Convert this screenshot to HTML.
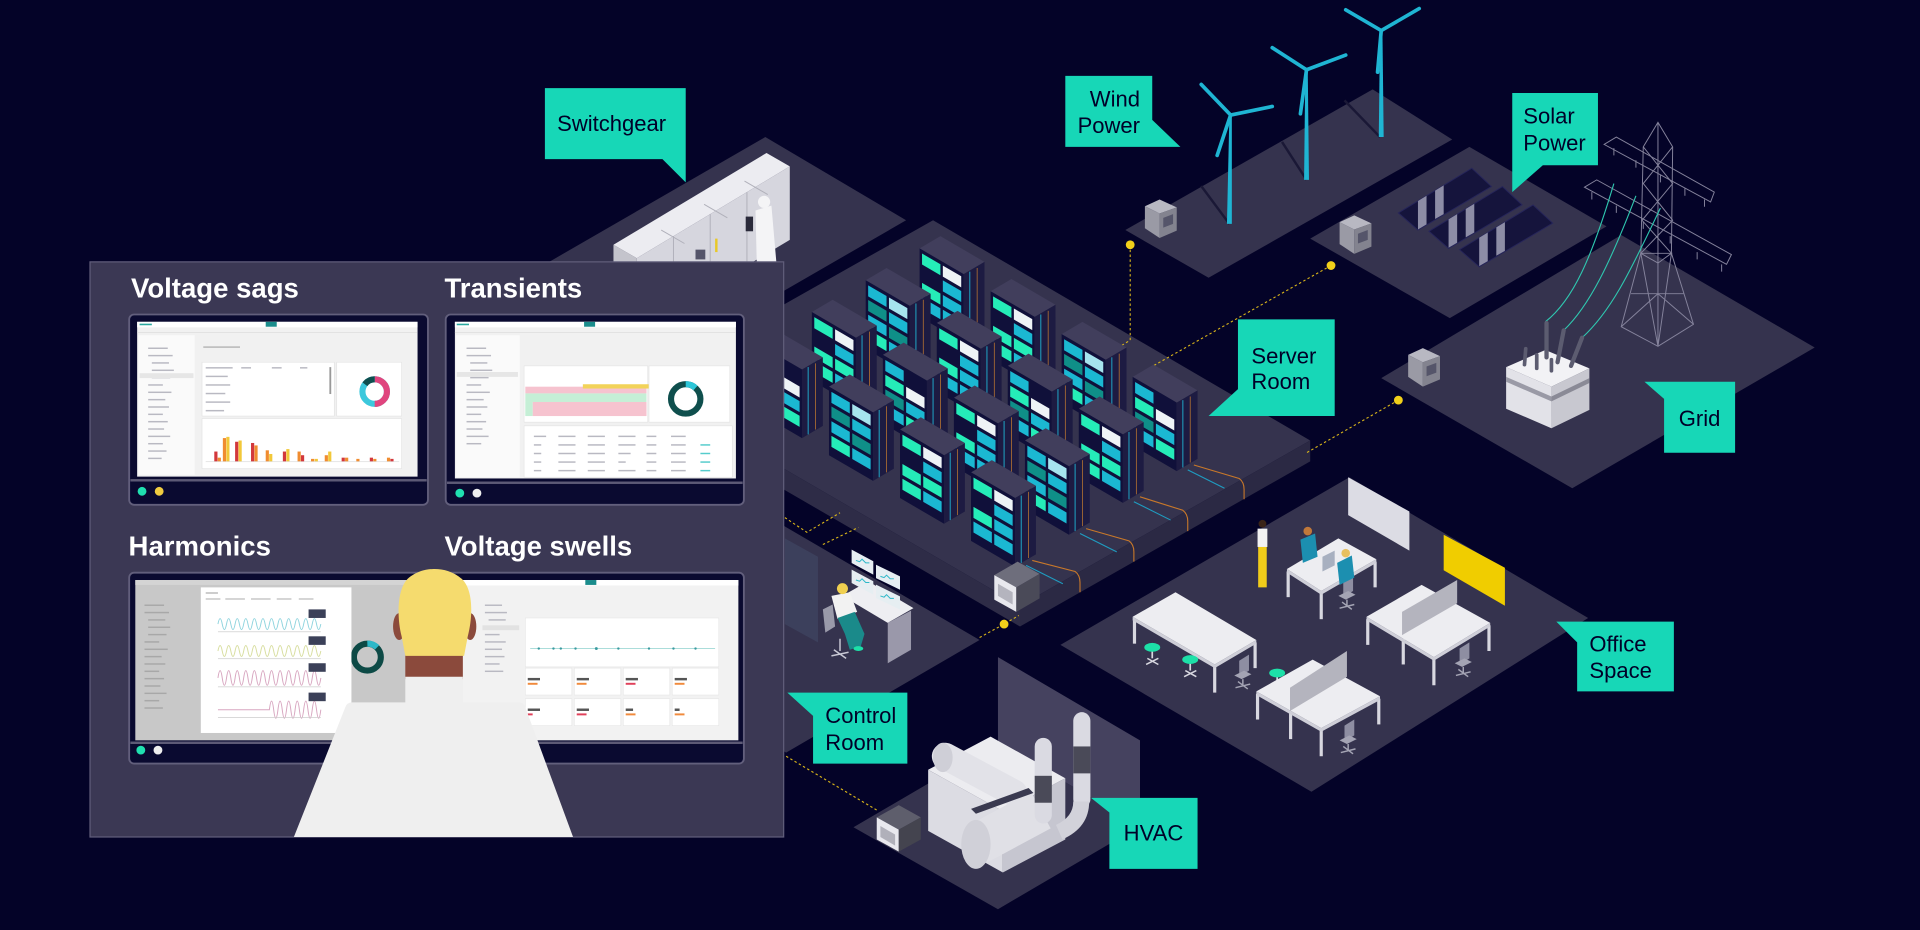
<!DOCTYPE html>
<html><head><meta charset="utf-8"><style>
html,body{margin:0;padding:0;background:#040328;overflow:hidden;}
svg{display:block;}
.lbl{font-family:"Liberation Sans",Arial,sans-serif;font-size:18px;fill:#000028;}
.ttl{font-family:"Liberation Sans",Arial,sans-serif;font-size:22.5px;font-weight:bold;fill:#ffffff;}
.m{fill:#25ecb8}.c{fill:#1bb8d2}.w{fill:#eef3f6}.l{fill:#a6e4ee}.t{fill:#0f8f88}
.dot{stroke:#d9b51a;stroke-width:.9;stroke-dasharray:2 2;fill:none}
.sb{fill:#b9b9c2}
</style></head><body>
<svg width="1920" height="930" viewBox="0 0 1568 760" preserveAspectRatio="none" xmlns="http://www.w3.org/2000/svg">
<defs>
<g id="rk">
<polygon points="0,0 36,21 53,11 17,-10" fill="#413e5c"/>
<polygon points="0,0 36,21 36,77 0,56" fill="#10103a"/>
<polygon points="36,21 53,11 53,67 36,77" fill="#1d1b42"/>
<line x1="41" y1="19" x2="41" y2="74" stroke="#1fa8c8" stroke-width=".8"/>
<line x1="47" y1="16" x2="47" y2="70" stroke="#c27a30" stroke-width=".6"/>
</g>
<g id="vA"><polygon class="m" points="2,4.2 17,12.9 17,21.9 2,13.2"/><polygon class="m" points="2,28.2 17,36.9 17,45.9 2,37.2"/><polygon class="c" points="2,40.2 17,48.9 17,57.9 2,49.2"/><polygon class="w" points="19,14.1 34,22.8 34,31.8 19,23.1"/><polygon class="c" points="19,26.1 34,34.8 34,43.8 19,35.1"/><polygon class="c" points="19,38.1 34,46.8 34,55.8 19,47.1"/><polygon class="c" points="19,50.1 34,58.8 34,67.8 19,59.1"/></g>
<g id="vB"><polygon class="c" points="2,4.2 17,12.9 17,21.9 2,13.2"/><polygon class="t" points="2,16.2 17,24.9 17,33.9 2,25.2"/><polygon class="c" points="2,28.2 17,36.9 17,45.9 2,37.2"/><polygon class="m" points="2,40.2 17,48.9 17,57.9 2,49.2"/><polygon class="l" points="19,14.1 34,22.8 34,31.8 19,23.1"/><polygon class="c" points="19,26.1 34,34.8 34,43.8 19,35.1"/><polygon class="t" points="19,38.1 34,46.8 34,55.8 19,47.1"/><polygon class="c" points="19,50.1 34,58.8 34,67.8 19,59.1"/></g>
<g id="vC"><polygon class="m" points="2,4.2 17,12.9 17,21.9 2,13.2"/><polygon class="m" points="2,28.2 17,36.9 17,45.9 2,37.2"/><polygon class="m" points="2,40.2 17,48.9 17,57.9 2,49.2"/><polygon class="w" points="19,14.1 34,22.8 34,31.8 19,23.1"/><polygon class="c" points="19,26.1 34,34.8 34,43.8 19,35.1"/><polygon class="m" points="19,38.1 34,46.8 34,55.8 19,47.1"/><polygon class="c" points="19,50.1 34,58.8 34,67.8 19,59.1"/></g>
<g id="vD"><polygon class="c" points="2,4.2 17,12.9 17,21.9 2,13.2"/><polygon class="m" points="2,16.2 17,24.9 17,33.9 2,25.2"/><polygon class="t" points="2,28.2 17,36.9 17,45.9 2,37.2"/><polygon class="c" points="2,40.2 17,48.9 17,57.9 2,49.2"/><polygon class="w" points="19,26.1 34,34.8 34,43.8 19,35.1"/><polygon class="c" points="19,38.1 34,46.8 34,55.8 19,47.1"/><polygon class="m" points="19,50.1 34,58.8 34,67.8 19,59.1"/></g>
<g id="meter">
<polygon points="0,5.5 12,0 26,6.5 12,11.5" fill="#b8b8c2"/>
<polygon points="0,5.5 12,11.5 12,31.5 0,23.5" fill="#9a9aa5"/>
<polygon points="12,11.5 26,6.5 26,25.5 12,31.5" fill="#83838f"/>
<polygon points="15,15 23,12 23,20 15,23" fill="#55556a"/>
</g>
<g id="chair"><polygon points="0,0 8,-5 8,8 0,13" fill="#8e8ea2"/><polygon points="-4,12 4,8 10,11 2,15" fill="#a4a4b4"/><path d="M3,15 v5 M-3,22 l12,-3 M-1,17 l8,6" stroke="#a4a4b4" stroke-width="1.2"/></g>
<g id="stool"><line x1="0" y1="0" x2="0" y2="9" stroke="#d8d8e0" stroke-width="1.4"/><path d="M-5,14 L5,9 M-4,9 L5,14" stroke="#d8d8e0" stroke-width="1.2"/><ellipse cx="0" cy="0" rx="6.5" ry="3.6" fill="#1de0a8"/></g>
</defs>

<rect width="1568" height="760" fill="#040328"/>

<!-- floors -->
<polygon points="625,112 740,180 560,284 445,216" fill="#35334e"/>
<polygon points="1121,73 1186,114 987,227 919,188" fill="#35334e"/>
<polygon points="1200,120 1312,185 1184,260 1070,195" fill="#35334e"/>
<polygon points="1324,192 1482,284 1284,399 1128,309" fill="#35334e"/>
<polygon points="560,383 800,523 642,615 480,522" fill="#35334e"/>
<polygon points="697,676 815,607 931,675 815,743" fill="#35334e"/>
<polygon points="815,537 931,605 931,675 815,607" fill="#45425f"/>
<polygon points="1102,390 1297,505 1071,647 866,527" fill="#35334e"/>
<polygon points="762,180 1070,360 833,495 523,315" fill="#35334e"/>
<polygon points="1070,360 1070,377 833,512 833,495" fill="#2b2944"/>
<polygon points="833,495 833,512 523,332 523,315" fill="#2e2c47"/>

<!-- wind turbine shadows -->
<g stroke="#1a1836" stroke-width="2"><line x1="981" y1="152" x2="1004" y2="183"/><line x1="1047" y1="116" x2="1067" y2="147"/><line x1="1098" y1="82" x2="1127" y2="112"/></g>

<!-- dotted connectors -->
<path class="dot" d="M923,200 L923,278 L910,286"/>
<path class="dot" d="M1087,217 L940,300"/>
<path class="dot" d="M1142,327 L1067,370"/>
<path class="dot" d="M800,521 L820,510 L832,503"/>
<path class="dot" d="M641,423 L659,435 L686,419 M672,445 L701,431"/>
<path class="dot" d="M642,618 L716,662"/>

<!-- switchgear -->
<polygon points="501,200 626,125 645,136 520,211" fill="#ececf1"/>
<polygon points="501,200 520,211 520,262 501,251" fill="#c4c4cc"/>
<polygon points="520,211 645,136 645,196 520,271" fill="#d6d6de"/>
<g stroke="#b0b0ba" stroke-width=".8"><line x1="550" y1="193" x2="550" y2="253"/><line x1="580" y1="175" x2="580" y2="235"/><line x1="610" y1="157" x2="610" y2="217"/><line x1="540" y1="188" x2="559" y2="199"/><line x1="575" y1="167" x2="594" y2="178"/><line x1="608" y1="148" x2="627" y2="159"/></g>
<rect x="584" y="195" width="2" height="11" fill="#e8c828"/>
<rect x="568" y="204" width="8" height="8" fill="#55556a"/>
<polygon points="617,172 630,168 634,214 618,214" fill="#f4f4f6"/>
<circle cx="624" cy="165" r="5" fill="#f4f4f6"/>
<rect x="609" y="177" width="6" height="12" fill="#2a2a3a"/>

<!-- wind turbines -->
<g fill="#1fb5d3" stroke="#1fb5d3" stroke-linecap="round">
<polygon points="1002,183 1006,183 1006,94 1004,94" stroke="none"/>
<polygon points="1065,147 1069,147 1068,57 1066,57" stroke="none"/>
<polygon points="1126,112 1130,112 1129,25 1127,25" stroke="none"/>
<g stroke-width="3"><line x1="1005" y1="94" x2="981" y2="69"/><line x1="1005" y1="94" x2="1039" y2="87"/><line x1="1005" y1="94" x2="994" y2="127"/>
<line x1="1067" y1="57" x2="1039" y2="39"/><line x1="1067" y1="57" x2="1099" y2="45"/><line x1="1067" y1="57" x2="1062" y2="93"/>
<line x1="1128" y1="25" x2="1099" y2="8"/><line x1="1128" y1="25" x2="1159" y2="7"/><line x1="1128" y1="25" x2="1125" y2="59"/></g>
</g>
<use href="#meter" x="935" y="163"/>
<use href="#meter" x="1094" y="176"/>
<use href="#meter" x="1150" y="284.5"/>

<!-- solar panels -->
<g fill="#15143c" stroke="#26255a" stroke-width=".8">
<polygon points="1142,174 1202,137.5 1218,152.4 1158,188"/>
<polygon points="1167,189 1227,152.5 1243,167.4 1183,203"/>
<polygon points="1192,204 1252,167.5 1268,182.4 1208,218"/>
</g>
<g fill="#8d8da6">
<polygon points="1158,164.3 1165,160 1165,183.4 1158,187.5"/><polygon points="1172,155.8 1179,151.5 1179,175 1172,179"/>
<polygon points="1183,179.3 1190,175 1190,198.4 1183,202.5"/><polygon points="1197,170.8 1204,166.5 1204,190 1197,194"/>
<polygon points="1208,194.3 1215,190 1215,213.4 1208,217.5"/><polygon points="1222,185.8 1229,181.5 1229,205 1222,209"/>
</g>

<!-- transmission tower -->
<g stroke="#85839c" stroke-width=".8" fill="none">
<path d="M1354,100 L1342,120 L1340,207 L1324,267 L1354,283 L1383,265 L1365,207 L1366,120 Z"/>
<path d="M1354,100 L1354,283 M1340,207 L1365,207 L1354,215 L1340,207 M1342,120 L1366,150 L1341,180 L1365,207 M1366,120 L1342,150 L1366,180 L1340,207 M1340,207 L1354,283 L1365,207 M1324,267 L1354,240 L1383,265 M1332,240 L1375,240"/>
<path d="M1310,118 L1320,112 L1400,157 L1397,165 Z M1294,153 L1304,147 L1414,208 L1410,216 Z"/>
<path d="M1318,121 v6 M1336,131 v6 M1356,143 v6 M1376,154 v6 M1392,163 v6 M1300,157 v6 M1320,168 v6 M1342,181 v6 M1364,193 v6 M1386,206 v6 M1406,216 v6"/>
</g>
<g stroke="#2fc8b0" stroke-width=".9" fill="none">
<path d="M1262,263 C1285,245 1300,210 1318,150"/>
<path d="M1277,270 C1298,250 1315,215 1336,160"/>
<path d="M1292,276 C1315,255 1330,225 1356,170"/>
</g>
<!-- transformer -->
<polygon points="1230,300 1262,286 1298,301 1267,316" fill="#f2f2f5"/>
<polygon points="1230,300 1267,316 1267,350 1230,334" fill="#e2e2e8"/>
<polygon points="1267,316 1298,301 1298,335 1267,350" fill="#c8c8d0"/>
<polygon points="1230,308 1267,324 1267,328 1230,312" fill="#9a9aa6"/>
<polygon points="1267,324 1298,309 1298,313 1267,328" fill="#8a8a96"/>
<g stroke="#5c5c70" stroke-linecap="round"><line x1="1263" y1="292" x2="1263" y2="264" stroke-width="3.5"/><line x1="1272" y1="296" x2="1277" y2="270" stroke-width="3.5"/><line x1="1283" y1="299" x2="1292" y2="276" stroke-width="3.5"/><line x1="1245" y1="298" x2="1246" y2="285" stroke-width="3"/><line x1="1255" y1="301" x2="1255" y2="290" stroke-width="3"/><line x1="1267" y1="303" x2="1267" y2="294" stroke-width="3"/></g>

<!-- server racks -->
<g transform="translate(751,203)"><use href="#rk"/><use href="#vA"/></g>
<g transform="translate(809,238)"><use href="#rk"/><use href="#vC"/></g>
<g transform="translate(867,273)"><use href="#rk"/><use href="#vB"/></g>
<g transform="translate(925,308)"><use href="#rk"/><use href="#vD"/></g>
<g transform="translate(707,229)"><use href="#rk"/><use href="#vB"/></g>
<g transform="translate(765,264)"><use href="#rk"/><use href="#vA"/></g>
<g transform="translate(823,299)"><use href="#rk"/><use href="#vD"/></g>
<g transform="translate(881,334)"><use href="#rk"/><use href="#vC"/></g>
<g transform="translate(663,255)"><use href="#rk"/><use href="#vC"/></g>
<g transform="translate(721,290)"><use href="#rk"/><use href="#vD"/></g>
<g transform="translate(779,325)"><use href="#rk"/><use href="#vA"/></g>
<g transform="translate(837,360)"><use href="#rk"/><use href="#vB"/></g>
<g transform="translate(619,281)"><use href="#rk"/><use href="#vD"/></g>
<g transform="translate(677,316)"><use href="#rk"/><use href="#vB"/></g>
<g transform="translate(735,351)"><use href="#rk"/><use href="#vC"/></g>
<g transform="translate(793,386)"><use href="#rk"/><use href="#vA"/></g>
<!-- cables -->
<g fill="none" stroke-width=".9">
<g stroke="#c8782a"><path d="M975,380 L1012,391 Q1016,394 1016,400 L1016,408"/><path d="M931,406 L966,417 Q970,420 970,426 L970,434"/><path d="M887,432 L922,442 Q926,445 926,451 L926,459"/><path d="M843,458 L878,467 Q882,470 882,476 L882,484"/></g>
<g stroke="#1f9cc0"><path d="M970,384 L1000,399"/><path d="M926,410 L956,425"/><path d="M882,436 L912,451"/><path d="M838,462 L868,477"/></g>
</g>
<!-- server meter -->
<polygon points="812,470 830,480 849,469 831,459" fill="#6e6e7c"/>
<polygon points="812,470 830,480 830,500 812,490" fill="#e8e8ee"/>
<polygon points="830,480 849,469 849,489 830,500" fill="#4a4a58"/>
<polygon points="815,477 827,484 827,494 815,487" fill="#b4b4be"/>

<!-- control room -->
<polygon points="641,440 668,455 668,525 641,510" fill="#4a5a78" opacity=".35"/>
<polygon points="688,487 709,475 746,497 725,509" fill="#eeeef2"/>
<polygon points="725,509 744,499 744,531 725,542" fill="#9a98aa"/>
<g fill="#e6eef2"><polygon points="695.5,449.2 713.2,458.7 713.2,469.6 695.5,460.1"/><polygon points="715.4,461.5 735,471 735,481.9 715.4,472.4"/><polygon points="695.5,465.5 713.2,475 713.2,485.9 695.5,476.4"/><polygon points="715.4,477.8 735,487.4 735,498.2 715.4,488.7"/></g>
<g stroke="#2bb8c8" stroke-width=".8" fill="none"><path d="M699,458 l3,1 2,-2 3,3 3,0"/><path d="M719,471 l3,1 2,-2 3,3 3,0"/><path d="M699,474 l3,1 2,-2 3,3 3,0"/><path d="M719,487 l3,1 2,-2 3,3 3,0"/></g>
<polygon points="672,498 680,494 682,512 674,517" fill="#9a9aaa"/>
<polygon points="679,487 694,484 700,500 684,506" fill="#f2f2f2"/>
<circle cx="688" cy="481" r="4.5" fill="#f0d050"/>
<polygon points="684,505 698,500 706,518 703,528 694,531 690,518" fill="#1a8a8a"/>
<path d="M686,522 v10 M679,536 l14,-3 M681,531 l10,7" stroke="#c8c8d4" stroke-width="1.2"/>
<ellipse cx="701" cy="530" rx="4" ry="2" fill="#1de0a8"/>

<!-- office -->
<polygon points="1101,390 1151,418 1151,450 1101,421" fill="#dcdce4"/>
<polygon points="1179,437 1229,464 1229,495 1179,466" fill="#f0cd00"/>
<use href="#chair" x="1097" y="475"/>
<g stroke="#d8d8e0" stroke-width="2.6"><line x1="1052" y1="467" x2="1052" y2="488"/><line x1="1079" y1="485" x2="1079" y2="506"/><line x1="1123" y1="459" x2="1123" y2="480"/></g>
<polygon points="1051,465 1093,440 1124,457 1079,483" fill="#ededf1"/>
<polygon points="1051,465 1079,483 1124,457 1124,460 1079,486 1051,468" fill="#cfcfd8"/>
<polygon points="1062,441 1074,436 1076,455 1064,460" fill="#1c8fb0"/>
<circle cx="1068" cy="434" r="3.5" fill="#c0783a"/>
<polygon points="1092,460 1104,454 1106,472 1094,478" fill="#1c8fb0"/>
<circle cx="1099" cy="452" r="3.5" fill="#e8c060"/>
<polygon points="1080,455 1090,450 1090,462 1080,467" fill="#a8b0c0"/>
<rect x="1027" y="432" width="8" height="15" fill="#f2f2f2"/>
<rect x="1027.5" y="447" width="7" height="33" fill="#f0cc1a"/>
<circle cx="1031" cy="428" r="3.2" fill="#3a2418"/>
<g stroke="#d8d8e0" stroke-width="2.6"><line x1="926.5" y1="506" x2="926.5" y2="526"/><line x1="992" y1="545" x2="992" y2="566"/><line x1="1025" y1="525" x2="1025" y2="546"/></g>
<polygon points="925,504 960,484 1026,523 992,543" fill="#ededf1"/>
<polygon points="925,504 992,543 1026,523 1026,526 992,546 925,507" fill="#cfcfd8"/>
<use href="#stool" x="941" y="529"/>
<use href="#stool" x="972" y="539"/>
<use href="#stool" x="1043" y="550"/>
<use href="#chair" x="1012" y="540"/>
<g stroke="#d8d8e0" stroke-width="2.6"><line x1="1117" y1="506" x2="1117" y2="527"/><line x1="1171" y1="539" x2="1171" y2="560"/><line x1="1216" y1="511" x2="1216" y2="532"/><line x1="1146" y1="522" x2="1146" y2="543"/></g>
<polygon points="1116,504 1161,478 1217,509 1171,537" fill="#ededf1"/>
<polygon points="1116,504 1171,537 1217,509 1217,512 1171,540 1116,507" fill="#cfcfd8"/>
<polygon points="1145,500 1190,474 1190,493 1145,519" fill="#b4b4be"/>
<use href="#chair" x="1192" y="530"/>
<g stroke="#d8d8e0" stroke-width="2.6"><line x1="1027" y1="567" x2="1027" y2="588"/><line x1="1079" y1="597" x2="1079" y2="618"/><line x1="1126" y1="571" x2="1126" y2="592"/><line x1="1054" y1="583" x2="1054" y2="604"/></g>
<polygon points="1026,565 1072,539 1127,569 1079,595" fill="#ededf1"/>
<polygon points="1026,565 1079,595 1127,569 1127,572 1079,598 1026,568" fill="#cfcfd8"/>
<polygon points="1053.5,562 1100,532 1100,553 1053.5,581" fill="#b4b4be"/>
<use href="#chair" x="1098" y="593"/>

<!-- HVAC -->
<polygon points="716,668 734,678 752,668 734,658" fill="#5e5e6c"/>
<polygon points="716,668 734,678 734,696 716,686" fill="#e8e8ee"/>
<polygon points="734,678 752,668 752,686 734,696" fill="#44444f"/>
<polygon points="719,675 731,682 731,691 719,684" fill="#b0b0ba"/>
<polygon points="758,629 809,602 870,636 819,663" fill="#ececf0"/>
<polygon points="758,629 819,663 819,713 758,679" fill="#dcdce3"/>
<polygon points="819,663 870,636 870,686 819,713" fill="#c6c6d0"/>
<line x1="772" y1="618" x2="828" y2="648" stroke="#e2e2e8" stroke-width="22" stroke-linecap="round"/>
<ellipse cx="770" cy="619" rx="8" ry="12" fill="#cfcfd7"/>
<line x1="798" y1="690" x2="850" y2="662" stroke="#e0e0e6" stroke-width="34"/>
<ellipse cx="797" cy="690" rx="12" ry="20" fill="#d0d0d8"/>
<polygon points="793,661 840,644 844,648 797,665" fill="#3a3a50"/>
<rect x="845" y="603" width="14" height="70" rx="7" fill="#dadae2"/>
<rect x="845" y="634" width="14" height="22" fill="#4a4a58"/>
<rect x="876.5" y="582" width="14" height="78" rx="7" fill="#dadae2"/>
<rect x="876.5" y="610" width="14" height="22" fill="#4a4a58"/>
<path d="M883,655 Q883,672 865,680" stroke="#d2d2da" stroke-width="13" fill="none"/>

<!-- left panel -->
<rect x="73.5" y="214" width="566.5" height="470" fill="#3b3854" stroke="#615e7b" stroke-width="1"/>
<text class="ttl" x="107" y="243">Voltage sags</text>
<text class="ttl" x="363" y="243">Transients</text>
<text class="ttl" x="105" y="454">Harmonics</text>
<text class="ttl" x="363" y="454">Voltage swells</text>

<!-- monitor 1 -->
<rect x="105.5" y="257" width="244" height="155.5" rx="4" fill="#0a0a30" stroke="#625f7c" stroke-width="1.5"/>
<rect x="112" y="263" width="229" height="126.5" fill="#f1f1f1"/>
<rect x="112" y="263" width="229" height="4.5" fill="#ffffff"/>
<rect x="217" y="263" width="9" height="4" fill="#1a8c8c"/>
<rect x="114" y="264.5" width="10" height="1.3" fill="#2aa8a0"/>
<rect x="112" y="271.5" width="229" height=".6" fill="#dcdcdc"/>
<rect x="113" y="274" width="46" height="114" fill="#fafafa"/>
<g class="sb"><rect x="121" y="284" width="16" height="1.2"/><rect x="121" y="290" width="20" height="1.2"/><rect x="124" y="296" width="14" height="1.2"/><rect x="124" y="302" width="18" height="1.2"/><rect x="124" y="308" width="15" height="1.2"/><rect x="121" y="314" width="12" height="1.2"/><rect x="121" y="320" width="19" height="1.2"/><rect x="121" y="326" width="14" height="1.2"/><rect x="121" y="332" width="17" height="1.2"/><rect x="121" y="338" width="12" height="1.2"/><rect x="121" y="344" width="16" height="1.2"/><rect x="121" y="350" width="13" height="1.2"/><rect x="121" y="356" width="18" height="1.2"/><rect x="121" y="362" width="12" height="1.2"/><rect x="121" y="368" width="15" height="1.2"/><rect x="121" y="374" width="11" height="1.2"/></g>
<rect x="114" y="305" width="44" height="4" fill="#e6e6e6"/>
<rect x="166" y="283" width="30" height="1.3" fill="#bbb"/>
<rect x="165" y="296" width="108" height="44" fill="#fff" stroke="#e2e2e2" stroke-width=".5"/>
<g class="sb"><rect x="168" y="300" width="22" height="1.2"/><rect x="197" y="300" width="8" height="1.2"/><rect x="222" y="300" width="8" height="1.2"/><rect x="245" y="300" width="6" height="1.2"/><rect x="168" y="307" width="18" height="1.2"/><rect x="168" y="314" width="20" height="1.2"/><rect x="168" y="321" width="16" height="1.2"/><rect x="168" y="328" width="20" height="1.2"/><rect x="168" y="335" width="15" height="1.2"/></g>
<rect x="269" y="300" width="1.5" height="22" fill="#999"/>
<rect x="275" y="296" width="53" height="44" fill="#fff" stroke="#e2e2e2" stroke-width=".5"/>
<circle cx="306" cy="320" r="10" fill="none" stroke="#3cc8dc" stroke-width="5"/>
<path d="M306,310 A10,10 0 0 1 306,330" fill="none" stroke="#e0457e" stroke-width="5"/>
<path d="M298,314 A10,10 0 0 1 306,310" fill="none" stroke="#0e4e4e" stroke-width="5"/>
<rect x="165" y="342" width="163" height="41" fill="#fff" stroke="#e2e2e2" stroke-width=".5"/>
<rect x="168" y="377" width="158" height=".6" fill="#ddd"/>
<g>
<rect x="175" y="369" width="2.6" height="8" fill="#d2383c"/><rect x="177.8" y="374" width="2.6" height="3" fill="#f08c30"/>
<rect x="182" y="358" width="2.6" height="19" fill="#f08c30"/><rect x="184.8" y="357" width="2.6" height="20" fill="#f2c83a"/>
<rect x="192" y="361" width="2.6" height="16" fill="#d2383c"/><rect x="194.8" y="360" width="2.6" height="17" fill="#f2c83a"/>
<rect x="205" y="362" width="2.6" height="15" fill="#d2383c"/><rect x="207.8" y="364" width="2.6" height="13" fill="#f08c30"/>
<rect x="217" y="368" width="2.6" height="9" fill="#f08c30"/><rect x="219.8" y="371" width="2.6" height="6" fill="#f2c83a"/>
<rect x="231" y="369" width="2.6" height="8" fill="#d2383c"/><rect x="233.8" y="367" width="2.6" height="10" fill="#f2c83a"/>
<rect x="243" y="369" width="2.6" height="8" fill="#f08c30"/><rect x="245.8" y="372" width="2.6" height="5" fill="#d2383c"/>
<rect x="254" y="375" width="2.6" height="2" fill="#f08c30"/><rect x="257" y="375" width="2.6" height="2" fill="#f2c83a"/>
<rect x="265.2" y="372" width="2.6" height="5" fill="#f08c30"/><rect x="268" y="369" width="2.6" height="8" fill="#f2c83a"/>
<rect x="279" y="374" width="2.6" height="3" fill="#d2383c"/><rect x="281.8" y="374" width="2.6" height="3" fill="#f08c30"/>
<rect x="291" y="375" width="2.6" height="2" fill="#f08c30"/>
<rect x="302" y="374" width="2.6" height="3" fill="#d2383c"/><rect x="304.8" y="375" width="2.6" height="2" fill="#f08c30"/>
<rect x="316" y="374" width="2.6" height="3" fill="#f08c30"/><rect x="318.8" y="375" width="2.6" height="2" fill="#d2383c"/>
</g>
<rect x="106.5" y="391.5" width="242" height="2" fill="#5d5a76"/>
<circle cx="116" cy="401.5" r="3.6" fill="#20e0b0"/>
<circle cx="130" cy="401.5" r="3.6" fill="#f0cc40"/>

<!-- monitor 2 -->
<rect x="364" y="257" width="243.5" height="155.5" rx="4" fill="#0a0a30" stroke="#625f7c" stroke-width="1.5"/>
<rect x="371.5" y="263" width="229.5" height="128" fill="#f1f1f1"/>
<rect x="371.5" y="263" width="229.5" height="4.5" fill="#ffffff"/>
<rect x="477" y="263" width="9" height="4" fill="#1a8c8c"/>
<rect x="373" y="264.5" width="10" height="1.3" fill="#2aa8a0"/>
<rect x="371.5" y="271.5" width="229.5" height=".6" fill="#dcdcdc"/>
<rect x="372.5" y="274" width="52" height="116" fill="#fafafa"/>
<g class="sb"><rect x="381" y="284" width="16" height="1.2"/><rect x="381" y="290" width="20" height="1.2"/><rect x="384" y="296" width="14" height="1.2"/><rect x="384" y="302" width="18" height="1.2"/><rect x="384" y="308" width="15" height="1.2"/><rect x="381" y="314" width="12" height="1.2"/><rect x="381" y="320" width="19" height="1.2"/><rect x="381" y="326" width="14" height="1.2"/><rect x="381" y="332" width="17" height="1.2"/><rect x="381" y="338" width="12" height="1.2"/><rect x="381" y="344" width="16" height="1.2"/><rect x="381" y="350" width="13" height="1.2"/><rect x="381" y="356" width="18" height="1.2"/><rect x="381" y="362" width="12" height="1.2"/></g>
<rect x="373" y="304" width="50" height="4" fill="#e6e6e6"/>
<rect x="428" y="299" width="101" height="46" fill="#fff" stroke="#e2e2e2" stroke-width=".5"/>
<rect x="429" y="316" width="99" height="5.5" fill="#f6c3cf"/>
<rect x="429" y="321.5" width="99" height="7" fill="#c5efd6"/>
<rect x="435" y="328.5" width="93" height="11.5" fill="#f6c3cf"/>
<rect x="429" y="328.5" width="6" height="11.5" fill="#c5efd6"/>
<rect x="476" y="314" width="67" height="3.5" fill="#f2d35a"/>
<rect x="530" y="299" width="66" height="46" fill="#fff" stroke="#e2e2e2" stroke-width=".5"/>
<circle cx="560" cy="326" r="12" fill="none" stroke="#0f4f4d" stroke-width="5"/>
<path d="M560,314 A12,12 0 0 1 568,317" fill="none" stroke="#2cc6d8" stroke-width="5"/>
<rect x="428" y="348" width="170" height="42" fill="#fff" stroke="#e2e2e2" stroke-width=".5"/>
<g class="sb"><rect x="436" y="356" width="10" height="1.2"/><rect x="456" y="356" width="14" height="1.2"/><rect x="480" y="356" width="14" height="1.2"/><rect x="505" y="356" width="14" height="1.2"/><rect x="528" y="356" width="8" height="1.2"/><rect x="548" y="356" width="12" height="1.2"/>
<rect x="436" y="363" width="6" height="1.2"/><rect x="456" y="363" width="14" height="1.2"/><rect x="480" y="363" width="14" height="1.2"/><rect x="505" y="363" width="14" height="1.2"/><rect x="528" y="363" width="8" height="1.2"/><rect x="548" y="363" width="12" height="1.2"/>
<rect x="436" y="370" width="6" height="1.2"/><rect x="456" y="370" width="14" height="1.2"/><rect x="480" y="370" width="14" height="1.2"/><rect x="505" y="370" width="10" height="1.2"/><rect x="528" y="370" width="8" height="1.2"/><rect x="548" y="370" width="12" height="1.2"/>
<rect x="436" y="377" width="6" height="1.2"/><rect x="456" y="377" width="14" height="1.2"/><rect x="480" y="377" width="14" height="1.2"/><rect x="505" y="377" width="6" height="1.2"/><rect x="528" y="377" width="8" height="1.2"/><rect x="548" y="377" width="12" height="1.2"/>
<rect x="436" y="384" width="6" height="1.2"/><rect x="456" y="384" width="14" height="1.2"/><rect x="480" y="384" width="14" height="1.2"/><rect x="505" y="384" width="14" height="1.2"/><rect x="528" y="384" width="8" height="1.2"/><rect x="548" y="384" width="12" height="1.2"/></g>
<g fill="#5cc"><rect x="572" y="363" width="8" height="1.2"/><rect x="572" y="370" width="8" height="1.2"/><rect x="572" y="377" width="8" height="1.2"/><rect x="572" y="384" width="8" height="1.2"/></g>
<rect x="365" y="393.5" width="241.5" height="2" fill="#5d5a76"/>
<circle cx="375.5" cy="403" r="3.6" fill="#20e0b0"/>
<circle cx="389.5" cy="403" r="3.6" fill="#eeeeee"/>

<!-- monitor 3 -->
<rect x="105.5" y="468" width="502" height="156" rx="4" fill="#0a0a30" stroke="#625f7c" stroke-width="1.5"/>
<rect x="110.5" y="474" width="235" height="131" fill="#c8c8c8"/>
<rect x="345" y="474" width="258" height="131" fill="#f2f2f2"/>
<rect x="110.5" y="474" width="235" height="4" fill="#d4d4d4"/>
<rect x="345" y="474" width="258" height="4.5" fill="#ffffff"/>
<rect x="478" y="474" width="9" height="4" fill="#1a8c8c"/>
<g fill="#a8a8a8"><rect x="118" y="494" width="16" height="1.2"/><rect x="118" y="500" width="20" height="1.2"/><rect x="121" y="506" width="14" height="1.2"/><rect x="121" y="512" width="18" height="1.2"/><rect x="121" y="518" width="15" height="1.2"/><rect x="118" y="524" width="12" height="1.2"/><rect x="118" y="530" width="19" height="1.2"/><rect x="118" y="536" width="14" height="1.2"/><rect x="118" y="542" width="17" height="1.2"/><rect x="118" y="548" width="12" height="1.2"/><rect x="118" y="554" width="16" height="1.2"/><rect x="118" y="560" width="13" height="1.2"/><rect x="118" y="566" width="18" height="1.2"/><rect x="118" y="572" width="12" height="1.2"/><rect x="118" y="578" width="15" height="1.2"/></g>
<circle cx="300" cy="537" r="11" fill="none" stroke="#0d4a46" stroke-width="5"/>
<path d="M300,526 A11,11 0 0 1 308,529" fill="none" stroke="#2cb8c8" stroke-width="5"/>
<rect x="164" y="480" width="123" height="119" fill="#ffffff"/>
<g fill="#bbb"><rect x="168" y="484" width="10" height="1.2"/><rect x="168" y="489" width="12" height="1"/><rect x="184" y="489" width="16" height="1"/><rect x="205" y="489" width="16" height="1"/><rect x="226" y="489" width="12" height="1"/><rect x="244" y="489" width="12" height="1"/></g>
<g fill="none" stroke-width=".8">
<path stroke="#8fd4de" d="M178,510 q1.75,-9 3.5,0 t3.5,0 t3.5,0 t3.5,0 t3.5,0 t3.5,0 t3.5,0 t3.5,0 t3.5,0 t3.5,0 t3.5,0 t3.5,0 t3.5,0 t3.5,0 t3.5,0 t3.5,0 t3.5,0 t3.5,0 t3.5,0 t3.5,0 t3.5,0 t3.5,0 t3.5,0 t3.5,0"/>
<path stroke="#d8dea0" d="M178,532 q1.75,-9 3.5,0 t3.5,0 t3.5,0 t3.5,0 t3.5,0 t3.5,0 t3.5,0 t3.5,0 t3.5,0 t3.5,0 t3.5,0 t3.5,0 t3.5,0 t3.5,0 t3.5,0 t3.5,0 t3.5,0 t3.5,0 t3.5,0 t3.5,0 t3.5,0 t3.5,0 t3.5,0 t3.5,0"/>
<path stroke="#d8a6c0" d="M178,554 q1.75,-12 3.5,0 t3.5,0 t3.5,0 t3.5,0 t3.5,0 t3.5,0 t3.5,0 t3.5,0 t3.5,0 t3.5,0 t3.5,0 t3.5,0 t3.5,0 t3.5,0 t3.5,0 t3.5,0 t3.5,0 t3.5,0 t3.5,0 t3.5,0 t3.5,0 t3.5,0 t3.5,0 t3.5,0"/>
<path stroke="#d8a6c0" d="M178,580 L220,580 q1.75,-14 3.5,0 t3.5,0 t3.5,0 t3.5,0 t3.5,0 t3.5,0 t3.5,0 t3.5,0 t3.5,0 t3.5,0 t3.5,0 t3.5,0"/>
</g>
<g fill="#3b4058"><rect x="252" y="498" width="14" height="7"/><rect x="252" y="520" width="14" height="7"/><rect x="252" y="542" width="14" height="7"/><rect x="252" y="566" width="14" height="7"/></g>
<g fill="#ccc"><rect x="178" y="516" width="84" height=".6"/><rect x="178" y="538" width="84" height=".6"/><rect x="178" y="561" width="84" height=".6"/><rect x="178" y="586" width="84" height=".6"/></g>
<g class="sb"><rect x="396" y="494" width="14" height="1.2"/><rect x="396" y="500" width="18" height="1.2"/><rect x="399" y="506" width="14" height="1.2"/><rect x="399" y="512" width="16" height="1.2"/><rect x="396" y="518" width="12" height="1.2"/><rect x="396" y="524" width="17" height="1.2"/><rect x="396" y="530" width="14" height="1.2"/><rect x="396" y="536" width="16" height="1.2"/><rect x="396" y="542" width="12" height="1.2"/><rect x="396" y="548" width="15" height="1.2"/></g>
<rect x="394" y="511" width="30" height="4" fill="#e2e2e2"/>
<rect x="429" y="505" width="158" height="40" fill="#fff" stroke="#e5e5e5" stroke-width=".5"/>
<line x1="433" y1="530" x2="584" y2="530" stroke="#9fd8d4" stroke-width=".8"/>
<g fill="#3a9aa0"><circle cx="440" cy="530" r="1"/><circle cx="452" cy="530" r="1"/><circle cx="458" cy="530" r="1"/><circle cx="470" cy="530" r="1"/><circle cx="487" cy="530" r="1.2"/><circle cx="505" cy="530" r="1"/><circle cx="530" cy="530" r="1"/><circle cx="550" cy="530" r="1"/><circle cx="568" cy="530" r="1"/></g>
<g fill="#fff" stroke="#e6e6e6" stroke-width=".5"><rect x="429" y="546" width="38" height="22"/><rect x="469" y="546" width="38" height="22"/><rect x="509" y="546" width="38" height="22"/><rect x="549" y="546" width="38" height="22"/><rect x="429" y="571" width="38" height="22"/><rect x="469" y="571" width="38" height="22"/><rect x="509" y="571" width="38" height="22"/><rect x="549" y="571" width="38" height="22"/></g>
<g fill="#555"><rect x="431" y="554" width="10" height="2"/><rect x="471" y="554" width="10" height="2"/><rect x="511" y="554" width="10" height="2"/><rect x="551" y="554" width="10" height="2"/><rect x="431" y="579" width="10" height="2"/><rect x="471" y="579" width="10" height="2"/><rect x="511" y="579" width="6" height="2"/><rect x="551" y="579" width="4" height="2"/></g>
<g fill="#f08a3c"><rect x="431" y="558" width="8" height="1.6"/><rect x="471" y="558" width="8" height="1.6"/><rect x="551" y="558" width="8" height="1.6"/><rect x="511" y="583" width="8" height="1.6"/><rect x="551" y="583" width="8" height="1.6"/></g>
<g fill="#e0405a"><rect x="511" y="558" width="8" height="1.6"/><rect x="471" y="583" width="8" height="1.6"/><rect x="431" y="583" width="4" height="1.6"/></g>
<rect x="106.5" y="606" width="500" height="2" fill="#5d5a76"/>
<circle cx="115" cy="613" r="3.6" fill="#20e0b0"/>
<circle cx="129" cy="613" r="3.6" fill="#eeeeee"/>

<!-- person -->
<ellipse cx="326" cy="512" rx="5" ry="11" fill="#8b4a3c"/>
<ellipse cx="384" cy="512" rx="5" ry="11" fill="#8b4a3c"/>
<rect x="331" y="528" width="47" height="27" fill="#8b4a3c"/>
<path d="M331,536 L328,520 C324,505 324,480 334,472 C342,466 349,465 355,465 C362,465 370,467 377,473 C387,482 386,505 382,520 L379,536 Z" fill="#f5db6e"/>
<path d="M240,684 L282,578 Q283,574 288,574 L331,574 L331,553 L378,553 L378,574 L423,574 Q428,574 429,578 L468,684 Z" fill="#efefef"/>

<!-- labels -->
<g fill="#17d7b7">
<polygon points="445,72 560,72 560,149 541,130 445,130"/>
<polygon points="870,62 941,62 941,98 964,120 870,120"/>
<polygon points="1235,76 1305,76 1305,135 1260,135 1235,157"/>
<polygon points="1011,261 1090,261 1090,340 987,340 1011,318"/>
<polygon points="1343,312 1417,312 1417,370 1359,370 1359,326"/>
<polygon points="1271,508 1367,508 1367,565 1288,565 1288,525"/>
<polygon points="643,566 741,566 741,624 664,624 664,585"/>
<polygon points="891,652 978,652 978,710 906,710 906,664"/>
</g>
<text class="lbl" x="455" y="107">Switchgear</text>
<text class="lbl" x="931" y="87" text-anchor="end">Wind</text>
<text class="lbl" x="931" y="108.5" text-anchor="end">Power</text>
<text class="lbl" x="1244" y="101">Solar</text>
<text class="lbl" x="1244" y="123">Power</text>
<text class="lbl" x="1022" y="297">Server</text>
<text class="lbl" x="1022" y="318">Room</text>
<text class="lbl" x="1388" y="348" text-anchor="middle">Grid</text>
<text class="lbl" x="1298" y="532.5">Office</text>
<text class="lbl" x="1298" y="554">Space</text>
<text class="lbl" x="674" y="591">Control</text>
<text class="lbl" x="674" y="613">Room</text>
<text class="lbl" x="942" y="687" text-anchor="middle">HVAC</text>

<!-- yellow dots -->
<g fill="#f2d01a"><circle cx="923" cy="200" r="3.6"/><circle cx="1087" cy="217" r="3.6"/><circle cx="1142" cy="327" r="3.6"/><circle cx="820" cy="510" r="3.6"/></g>
</svg>
</body></html>
